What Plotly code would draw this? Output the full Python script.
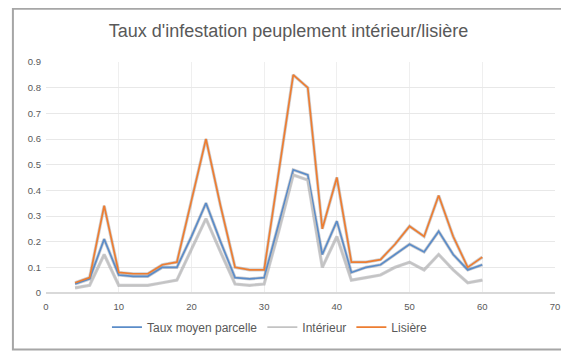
import plotly.graph_objects as go

x_pts = [4, 6, 8, 10, 12, 14, 16, 18, 20, 22, 24, 26, 28, 30, 32,
         34, 36, 38, 40, 42, 44, 46, 48, 50, 52, 54, 56, 58, 60]
taux_moyen = [0.035, 0.055, 0.21, 0.07, 0.065, 0.065, 0.10, 0.10, 0.22, 0.35,
              0.20, 0.06, 0.055, 0.06, 0.27, 0.48, 0.46, 0.15, 0.28, 0.08,
              0.10, 0.11, 0.15, 0.19, 0.16, 0.24, 0.15, 0.09, 0.11]
interieur = [0.02, 0.03, 0.15, 0.03, 0.03, 0.03, 0.04, 0.05, 0.17, 0.29,
             0.16, 0.035, 0.03, 0.035, 0.24, 0.46, 0.44, 0.10, 0.22, 0.05,
             0.06, 0.07, 0.10, 0.12, 0.09, 0.15, 0.09, 0.04, 0.05]
lisiere = [0.04, 0.06, 0.34, 0.08, 0.075, 0.075, 0.11, 0.12, 0.36, 0.60,
           0.34, 0.10, 0.09, 0.09, 0.47, 0.85, 0.80, 0.25, 0.45, 0.12,
           0.12, 0.13, 0.19, 0.26, 0.22, 0.38, 0.22, 0.10, 0.14]

series = [
    ("Taux moyen parcelle", taux_moyen, "#5b8cc8"),
    ("Intérieur", interieur, "#c3c3c3"),
    ("Lisière", lisiere, "#ed7d31"),
]

GRIS = "#595959"
fig = go.Figure()

# ombre légère sous chaque courbe (effet Excel)
for nom, vals, c in series:
    fig.add_trace(go.Scatter(x=x_pts, y=vals, mode="lines", showlegend=False,
                             hoverinfo="skip",
                             line=dict(color="rgba(60,60,70,0.25)", width=3.2)))
for nom, vals, c in series:
    fig.add_trace(go.Scatter(x=x_pts, y=vals, mode="lines", name=nom,
                             line=dict(color=c, width=1.7)))

# la page ajoute quelques px de marge autour du graphique : on compense
fig.update_layout(
    width=561, height=344,
    margin=dict(l=38, r=9, t=54, b=59),
    paper_bgcolor="white", plot_bgcolor="white",
    font=dict(family="Liberation Sans, Arial, sans-serif", color=GRIS, size=9),
    title=dict(text="Taux d'infestation peuplement intérieur/lisière",
               x=0.5, xanchor="center", y=0.935, yanchor="middle",
               font=dict(size=18, color=GRIS)),
    legend=dict(orientation="h", x=0.44, xanchor="center", y=-0.085, yanchor="top",
                font=dict(size=12, color=GRIS), itemwidth=30),
    showlegend=True,
)
fig.update_xaxes(range=[0, 70], dtick=10, showgrid=True, gridcolor="#efefef",
                 zeroline=False, showline=False, ticks="", tickfont=dict(size=9.5),
                 ticklabelstandoff=6)
fig.update_yaxes(range=[0, 0.9], dtick=0.1, showgrid=True, gridcolor="#e8e8e8",
                 zeroline=True, zerolinecolor="#d9d9d9", showline=False,
                 ticks="", tickfont=dict(size=9.5), tickformat="~g",
                 ticklabelstandoff=4)

# cadre du graphique
fig.add_shape(type="rect", xref="paper", yref="paper",
              x0=-0.065, x1=1.05, y0=-0.245, y1=1.23,
              line=dict(color="#a6a6a6", width=2), fillcolor="rgba(0,0,0,0)")

fig.write_html("out.html")
